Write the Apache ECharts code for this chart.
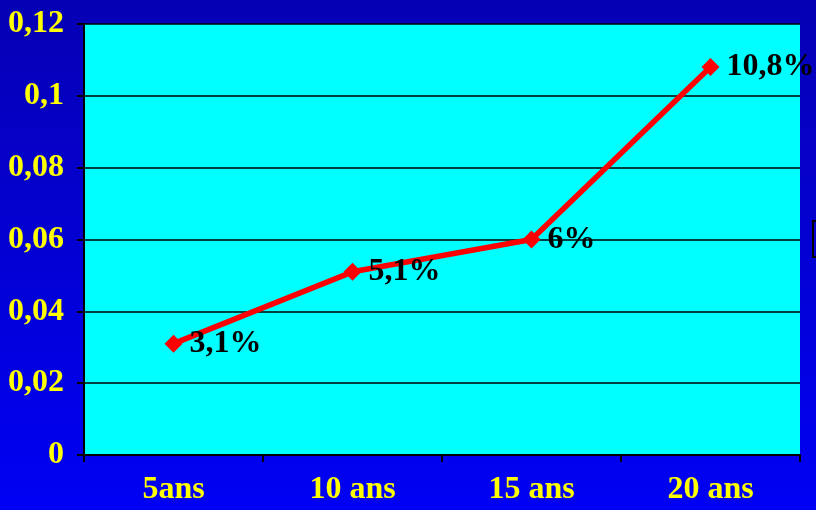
<!DOCTYPE html>
<html>
<head>
<meta charset="utf-8">
<script src="https://cdn.jsdelivr.net/npm/echarts@6/dist/echarts.min.js"></script>
<style>
  html, body { margin: 0; padding: 0; }
  #chart { width: 816px; height: 510px; }
</style>
</head>
<body>
<div id="chart"></div>
<script>
// Durées et taux
const categories = ['5ans', '10 ans', '15 ans', '20 ans'];
const rates = [0.031, 0.051, 0.06, 0.108];
const rateLabels = ['3,1%', '5,1%', '6%', '10,8%'];

const serif = '"Liberation Serif", "Times New Roman", serif';
const frNum = v => String(v).replace('.', ',');

const chart = echarts.init(document.getElementById('chart'));
chart.setOption({
  animation: false,
  backgroundColor: {
    type: 'linear', x: 0, y: 0, x2: 0, y2: 1,
    colorStops: [
      { offset: 0, color: '#0600B4' },
      { offset: 1, color: '#0000F4' }
    ]
  },
  grid: { left: 84, right: 16, top: 24, bottom: 55, show: true, backgroundColor: '#00FFFF', borderWidth: 0 },
  legend: {
    show: true,
    left: 813, top: 221,
    borderColor: '#000', borderWidth: 2, padding: [10, 10],
    data: ['Taux'],
    textStyle: { color: '#FFFF00', fontFamily: serif, fontWeight: 'bold', fontSize: 16 }
  },
  xAxis: {
    type: 'category',
    data: categories,
    boundaryGap: true,
    axisLine: { lineStyle: { color: '#000', width: 2 } },
    axisTick: { show: true, length: 7, lineStyle: { color: '#000', width: 2 } },
    axisLabel: { color: '#FFFF00', fontFamily: serif, fontWeight: 'bold', fontSize: 32, margin: 19 }
  },
  yAxis: {
    type: 'value',
    min: 0, max: 0.12, interval: 0.02,
    axisLine: { show: true, lineStyle: { color: '#000', width: 2 } },
    axisTick: { show: true, length: 7, lineStyle: { color: '#000', width: 2 } },
    splitLine: { lineStyle: { color: '#000', width: 1.5 } },
    axisLabel: {
      color: '#FFFF00', fontFamily: serif, fontWeight: 'bold', fontSize: 32, margin: 20,
      formatter: v => frNum(+v.toFixed(2))
    }
  },
  series: [{
    name: 'Taux',
    type: 'line',
    data: rates,
    color: '#FF0000',
    lineStyle: { color: '#FF0000', width: 5.5 },
    symbol: 'diamond',
    symbolSize: 18,
    itemStyle: { color: '#FF0000' },
    label: {
      show: true,
      position: 'right',
      distance: 7,
      color: '#000',
      fontFamily: serif,
      fontWeight: 'bold',
      fontSize: 32,
      formatter: p => rateLabels[p.dataIndex]
    }
  }]
});
</script>
</body>
</html>
